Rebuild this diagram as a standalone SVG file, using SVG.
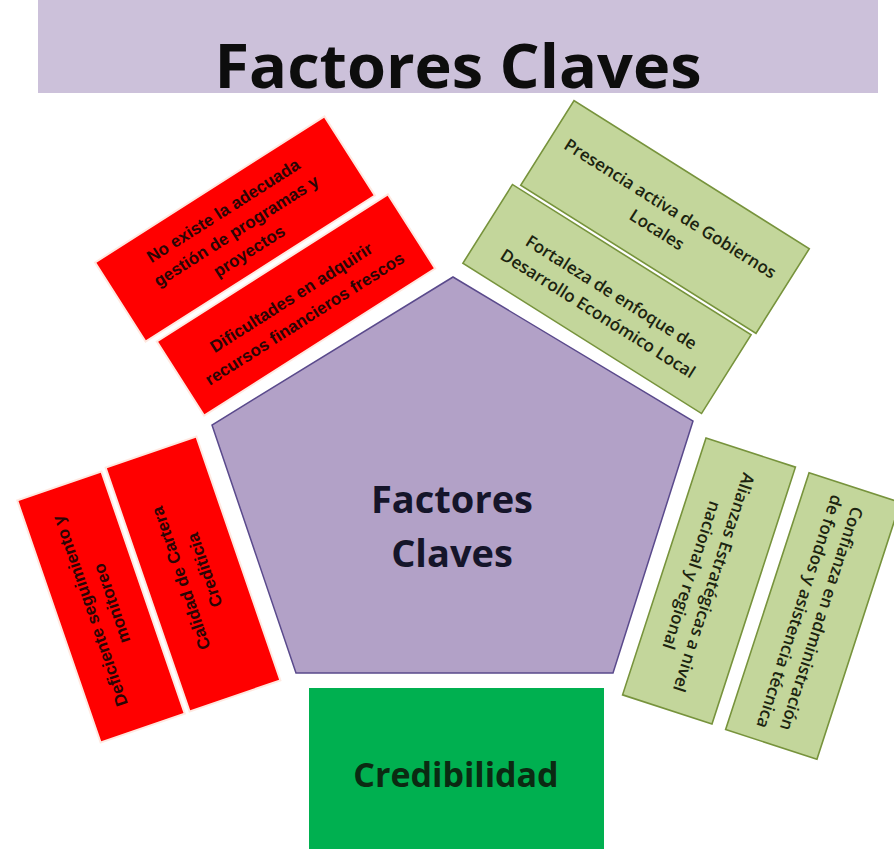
<svg xmlns="http://www.w3.org/2000/svg" width="894" height="849" viewBox="0 0 894 849">
<style>
.red{fill:#ff0000;stroke:#ffe8e0;stroke-width:2}
.grn{fill:#c3d69b;stroke:#77933c;stroke-width:1.6}
.rt{font-family:"Liberation Sans",Arial,sans-serif;font-weight:bold;font-size:17px;fill:#2a0505;text-anchor:middle}
.gt{font-family:"Open Sans","DejaVu Sans",sans-serif;font-weight:600;font-size:17px;fill:#1c2410;text-anchor:middle}
.big{font-family:"Open Sans","DejaVu Sans",sans-serif;font-weight:bold;text-anchor:middle}
</style>
<rect x="0" y="0" width="894" height="849" fill="#ffffff"/>
<g id="title">
<rect x="38" y="0" width="840" height="93" fill="#ccc1da"/>
<text class="big" x="458" y="88" font-size="60" textLength="487" lengthAdjust="spacingAndGlyphs" style="fill:#0d0d0d">Factores Claves</text>
</g>
<g id="center">
<polygon points="453,277 693,421 613,673 296,673 212,425" fill="#b2a1c7" stroke="#5a4a8c" stroke-width="1.5"/>
<text class="big" x="452" y="513" font-size="38" style="fill:#15152a">Factores</text>
<text class="big" x="452" y="567" font-size="38" style="fill:#15152a">Claves</text>
</g>
<g id="credibilidad">
<rect x="309" y="688" width="295" height="165" fill="#00b050"/>
<text class="big" x="456" y="787" font-size="34" style="fill:#0b2a12">Credibilidad</text>
</g>
<g id="tl1" transform="translate(235,229) rotate(-32.5)">
<rect class="red" x="-136" y="-47" width="272" height="94"/>
<text class="rt" x="0" y="-16">No existe la adecuada</text>
<text class="rt" x="0" y="8">gestión de programas y</text>
<text class="rt" x="0" y="32">proyectos</text>
</g>
<g id="tl2" transform="translate(296,305) rotate(-32.5)">
<rect class="red" x="-137" y="-44" width="274" height="88"/>
<text class="rt" x="0" y="-3">Dificultades en adquirir</text>
<text class="rt" x="0" y="22">recursos financieros frescos</text>
</g>
<g id="tr1" transform="translate(665,217) rotate(32.2)">
<rect class="grn" x="-139" y="-50" width="278" height="100"/>
<text class="gt" x="0" y="-4">Presencia activa de Gobiernos</text>
<text class="gt" x="0" y="21">Locales</text>
</g>
<g id="tr2" transform="translate(607,299) rotate(32.2)">
<rect class="grn" x="-141" y="-46.5" width="282" height="93"/>
<text class="gt" x="0" y="-2">Fortaleza de enfoque de</text>
<text class="gt" x="0" y="23">Desarrollo Económico Local</text>
</g>
<g id="r1" transform="translate(709,581) rotate(108)">
<rect class="grn" x="-135" y="-47" width="270" height="94"/>
<text class="gt" x="0" y="1">Alianzas Estratégicas a nivel</text>
<text class="gt" x="0" y="24">nacional y regional</text>
</g>
<g id="r2" transform="translate(813,616) rotate(108)">
<rect class="grn" x="-135" y="-48" width="270" height="96"/>
<text class="gt" x="0" y="-3">Confianza en administración</text>
<text class="gt" x="0" y="20">de fondos y asistencia técnica</text>
</g>
<g id="l1" transform="translate(193,574) rotate(-109)">
<rect class="red" x="-129" y="-48" width="258" height="96"/>
<text class="rt" x="0" y="-7">Calidad de Cartera</text>
<text class="rt" x="0" y="18">Crediticia</text>
</g>
<g id="l2" transform="translate(101,607) rotate(-109)">
<rect class="red" x="-128" y="-44.5" width="256" height="89"/>
<text class="rt" x="0" y="-6">Deficiente seguimiento y</text>
<text class="rt" x="0" y="17">monitoreo</text>
</g>
<g id="connectors"></g>
</svg>
